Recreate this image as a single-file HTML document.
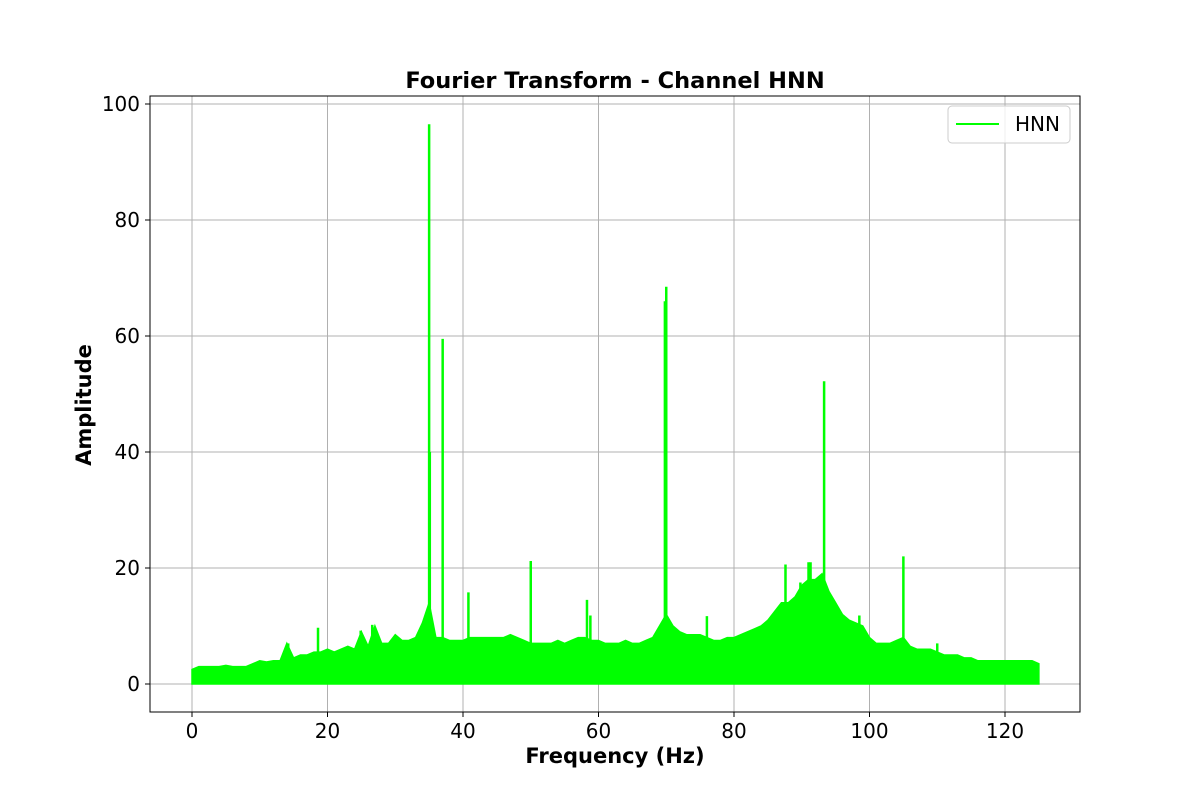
<!DOCTYPE html>
<html><head><meta charset="utf-8"><style>
body{margin:0;background:#fff}
svg{display:block;font-family:"DejaVu Sans","Liberation Sans",sans-serif}
</style></head><body>
<svg id="chart" width="1200" height="800">
<rect width="1200" height="800" fill="#fff"/>
<g id="grid"></g>
<g id="marks"></g>
<rect x="150" y="96" width="930" height="616" fill="none" stroke="#000" stroke-width="1"/>
<g id="ticks"></g>
<text x="615" y="88" text-anchor="middle" font-size="22.5" font-weight="bold">Fourier Transform - Channel HNN</text>
<text x="615" y="763" text-anchor="middle" font-size="21" font-weight="bold">Frequency (Hz)</text>
<text x="91" y="405" text-anchor="middle" font-size="21" font-weight="bold" transform="rotate(-90 91 405)">Amplitude</text>
<g>
<rect x="948" y="106" width="122" height="37" rx="4" fill="#fff" fill-opacity="0.8" stroke="#ccc"/>
<line x1="956" y1="124" x2="999" y2="124" stroke="#00ff00" stroke-width="2"/>
<text x="1015" y="131" font-size="20">HNN</text>
</g>
</svg>
<script>
const envelope=[2.5,3,3,3,3,3.2,3,3,3,3.5,4,3.8,4,4,7,4.5,5,5,5.5,5.5,6,5.5,6,6.5,6,9,6.5,10,7,7,8.5,7.5,7.5,8,10.5,14,8,8,7.5,7.5,7.5,8,8,8,8,8,8,8.5,8,7.5,7,7,7,7,7.5,7,7.5,8,8,7.5,7.5,7,7,7,7.5,7,7,7.5,8,10,12,10,9,8.5,8.5,8.5,8,7.5,7.5,8,8,8.5,9,9.5,10,11,12.5,14,14,15,17,18,18,19,16,14,12,11,10.5,10,8,7,7,7,7.5,8,6.5,6,6,6,5.5,5,5,5,4.5,4.5,4,4,4,4,4,4,4,4,4,3.5];
const peakFreqs=[14.2,18.6,24.9,26.6,35,35.1,37,40.8,50,58.3,58.8,69.8,70,76,87.6,89.8,91,91.3,93.3,94,98.5,105,110];
const peakAmps=[7,9.7,9.2,10.2,96.5,40,59.5,15.8,21.2,14.5,11.8,66,68.5,11.7,20.6,17.5,21,21,52.2,15.8,11.8,22,7];
const xTicks=[0,20,40,60,80,100,120];
const yTicks=[0,20,40,60,80,100];
const X=v=>192+v*(1005-192)/120;
const Y=v=>684-v*5.8;
const NS="http://www.w3.org/2000/svg";
function mk(tag,attrs,parent){const e=document.createElementNS(NS,tag);for(const k in attrs)e.setAttribute(k,attrs[k]);parent.appendChild(e);return e;}
const grid=document.getElementById('grid'),ticks=document.getElementById('ticks'),marks=document.getElementById('marks');
xTicks.forEach(t=>{
 const g=mk('line',{x1:X(t),x2:X(t),y1:96,y2:712,stroke:'#b0b0b0','stroke-width':1},grid);
 
 
 mk('line',{x1:X(t),x2:X(t),y1:712,y2:717,stroke:'#000'},ticks);
 const l=mk('text',{x:X(t),y:738,'text-anchor':'middle','font-size':20},ticks);
 l.textContent=t;
 
 
});
yTicks.forEach(t=>{
 const g=mk('line',{x1:150,x2:1080,y1:Y(t),y2:Y(t),stroke:'#b0b0b0','stroke-width':1},grid);
 
 
 mk('line',{x1:145,x2:150,y1:Y(t),y2:Y(t),stroke:'#000'},ticks);
 const l=mk('text',{x:140,y:Y(t)+7,'text-anchor':'end','font-size':20},ticks);
 l.textContent=t;
 
 
});
let d='M'+X(0)+','+Y(0);
envelope.forEach((v,i)=>{d+=' L'+X(i)+','+Y(v);});
d+=' L'+X(envelope.length-1)+','+Y(0)+' Z';
const area=mk('path',{d:d,fill:'#00ff00',stroke:'#00ff00','stroke-width':1.5},marks);


peakFreqs.forEach((f,i)=>{
 const p=mk('line',{x1:X(f),x2:X(f),y1:Y(0),y2:Y(peakAmps[i]),stroke:'#00ff00','stroke-width':2.5},marks);
 
 
});
</script>
</body></html>
